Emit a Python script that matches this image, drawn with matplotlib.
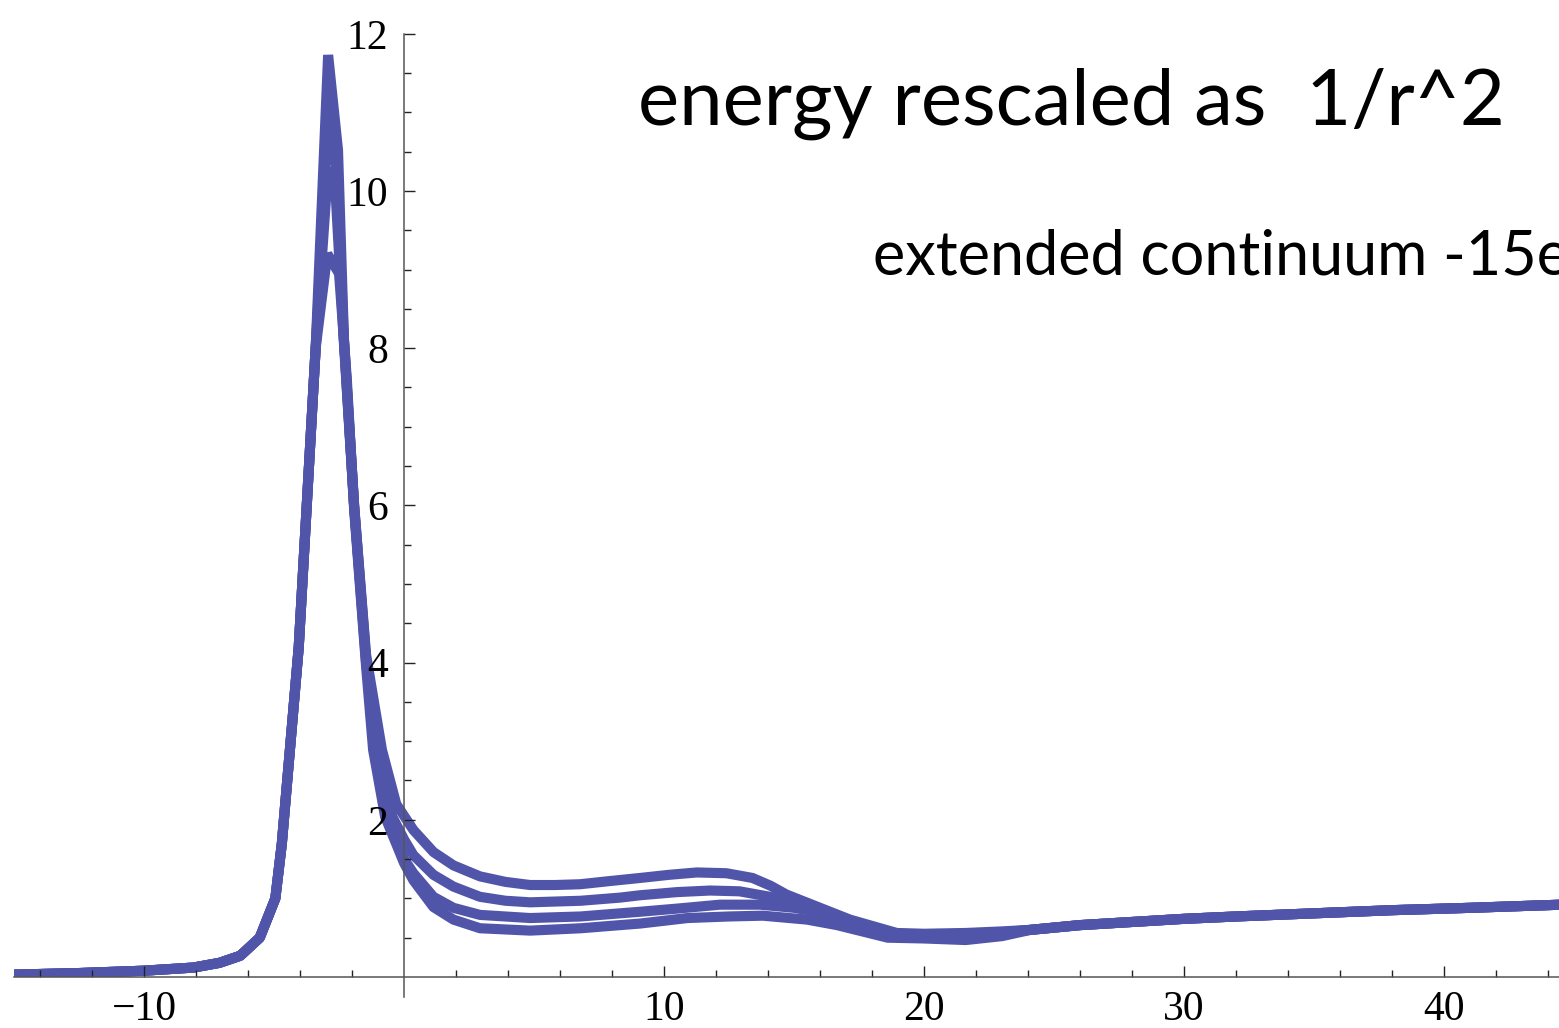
import matplotlib.pyplot as plt
from matplotlib.patches import Rectangle
from matplotlib.ticker import FixedLocator

# Shared low-energy side of the spectrum (all four curves coincide here)
x_rise = [-15, -12.5, -10, -8.1, -7.1, -6.3, -5.55, -4.95, -4.7, -4.05, -3.4]
y_rise = [0.03, 0.05, 0.08, 0.12, 0.18, 0.27, 0.5, 1.0, 1.7, 4.2, 8.0]

# Shared high-energy tail
x_tail = [24.1, 26, 28, 30, 32, 35, 38, 41, 44.5]
y_tail = [0.60, 0.66, 0.70, 0.74, 0.77, 0.81, 0.85, 0.88, 0.92]

# Peak + intermediate region for each curve
x_a = [-2.92, -2.54, -2.31, -1.92, -1.46, -0.85, -0.3, 0.36, 1.13, 1.9, 2.92, 3.9, 4.85, 5.8, 6.77,
       7.9, 9.08, 10.2, 11.26, 12.4, 13.4, 14.1, 14.7, 16.0, 17.15, 18.95, 20.0, 21.6, 23.0]
y_a = [11.73, 10.52, 8.1, 6.0, 4.1, 2.89, 2.2, 1.87, 1.59, 1.42, 1.28, 1.21, 1.17, 1.17, 1.18,
       1.22, 1.26, 1.30, 1.33, 1.32, 1.26, 1.16, 1.05, 0.88, 0.73, 0.56, 0.55, 0.56, 0.58]

x_b = [-2.92, -2.6, -2.31, -1.92, -1.46, -0.95, -0.45, 0.0, 0.36, 1.13, 1.9, 2.92, 3.9, 4.85, 6.8,
       8.31, 9.08, 10.5, 11.77, 12.9, 14.08, 15.2, 16.0, 17.15, 18.95, 20.0, 21.6, 23.0]
y_b = [10.9, 10.3, 8.1, 6.0, 4.05, 2.89, 2.04, 1.75, 1.55, 1.30, 1.15, 1.02, 0.97, 0.95, 0.97,
       1.01, 1.04, 1.08, 1.10, 1.09, 1.02, 0.92, 0.86, 0.70, 0.55, 0.54, 0.55, 0.57]

x_c = [-2.92, -2.62, -2.31, -1.92, -1.46, -1.05, -0.6, 0.0, 0.36, 1.13, 1.9, 2.92, 4.85, 6.8,
       8.31, 9.08, 10.5, 12.15, 13.7, 15.0, 16.0, 17.15, 18.95, 20.0, 21.6, 23.0]
y_c = [10.3, 9.9, 8.05, 5.98, 4.0, 2.89, 2.04, 1.5, 1.32, 1.02, 0.88, 0.79, 0.75, 0.77,
       0.81, 0.83, 0.87, 0.92, 0.92, 0.88, 0.82, 0.68, 0.54, 0.53, 0.54, 0.56]

x_d = [-2.95, -2.5, -2.2, -1.92, -1.46, -1.19, -0.73, 0.0, 0.36, 1.13, 1.9, 2.92, 4.85, 6.8,
       8.31, 9.08, 10.9, 12.5, 13.8, 15.5, 16.65, 18.6, 20.0, 21.6, 23.0]
y_d = [9.2, 8.95, 7.6, 5.95, 3.95, 2.89, 2.04, 1.45, 1.23, 0.89, 0.73, 0.62, 0.59, 0.62,
       0.66, 0.68, 0.75, 0.77, 0.78, 0.73, 0.66, 0.50, 0.49, 0.47, 0.52]

curves = [(x_a, y_a), (x_b, y_b), (x_c, y_c), (x_d, y_d)]

x_major = [-10, 10, 20, 30, 40]
x_labels = ['\u221210', '10', '20', '30', '40']
y_major = [2, 4, 6, 8, 10, 12]
y_labels = ['2', '4', '6', '8', '10', '12']
x_minor = [v for v in range(-14, 45, 2) if v % 10 != 0]
y_minor = [v / 2 for v in range(1, 24) if v % 4 != 0]

line_color = '#5155aa'
axis_color = '#555555'

fig = plt.figure(figsize=(15.59, 10.28), dpi=100)
ax = fig.add_axes([0, 0, 1, 1])

# plot region in data units (axis origin sits at pixel 404, 977)
ax.set_xlim(-15.54, 44.42)
ax.set_ylim(-0.649, 12.43)
ax.set_axisbelow(False)

clip_box = Rectangle((-15, 0), 60, 12.43, transform=ax.transData)

for xs, ys in curves:
  x_full = x_rise + xs + x_tail
  y_full = y_rise + ys + y_tail
  line, = ax.plot(x_full, y_full, color=line_color, lw=7.3,
                  solid_joinstyle='bevel', solid_capstyle='butt', zorder=1)
  line.set_clip_path(clip_box)

# Axes through the origin
for side in ['top', 'right']:
  ax.spines[side].set_visible(False)
ax.spines['left'].set_position(('data', 0))
ax.spines['bottom'].set_position(('data', 0))
ax.spines['left'].set_bounds(-0.25, 12)
ax.spines['bottom'].set_bounds(-15, 44.42)
for side in ['left', 'bottom']:
  ax.spines[side].set_color(axis_color)
  ax.spines[side].set_linewidth(1.1)
  ax.spines[side].set_zorder(3)

ax.set_xticks(x_major)
ax.set_xticklabels(x_labels)
ax.set_yticks(y_major)
ax.set_yticklabels(y_labels)
ax.xaxis.set_minor_locator(FixedLocator(x_minor))
ax.yaxis.set_minor_locator(FixedLocator(y_minor))

for lbl in ax.get_xticklabels() + ax.get_yticklabels():
  lbl.set_fontfamily('Liberation Serif')
  lbl.set_fontsize(30)

ax.tick_params(which='major', direction='in', length=8, width=1.0, color='#222222')
ax.tick_params(which='minor', direction='in', length=5, width=1.0, color='#222222')
ax.tick_params(axis='x', which='major', pad=10)
ax.tick_params(axis='y', which='major', pad=11.5)

# Annotations
ax.text(638 / 1559, 1 - 125 / 1028, 'energy rescaled as  1/r^2', transform=ax.transAxes,
        fontfamily='Lato', fontsize=56, ha='left', va='baseline', color='black')
ax.text(873 / 1559, 1 - 275 / 1028, 'extended continuum -15eV', transform=ax.transAxes,
        fontfamily='Lato', fontsize=44, ha='left', va='baseline', color='black')

fig.savefig('out.png', dpi=100)
